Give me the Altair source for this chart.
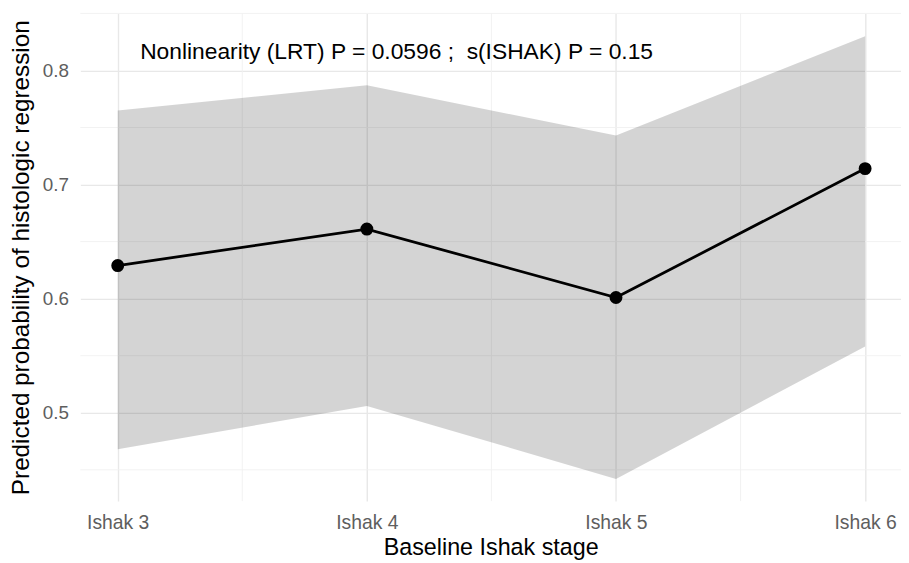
import altair as alt
import pandas as pd

stages = [3, 4, 5, 6]
stage_labels = ["Ishak 3", "Ishak 4", "Ishak 5", "Ishak 6"]
predicted = [0.629, 0.661, 0.601, 0.714]
lower = [0.468, 0.506, 0.442, 0.558]
upper = [0.765, 0.787, 0.743, 0.830]

minor_x = [3.5, 4.5, 5.5]
minor_y = [0.45, 0.55, 0.65, 0.75, 0.85]
major_y = [0.5, 0.6, 0.7, 0.8]

annotation = "Nonlinearity (LRT) P = 0.0596 ;\u00a0 s(ISHAK) P = 0.15"
ann_x = [3.09]
ann_y = [0.8105]

W, H = 828, 492
XDOM = [2.85, 6.144]
YDOM = [0.4226, 0.85]
FONT = "Liberation Sans"

df = pd.DataFrame({"stage": stages, "label": stage_labels, "pred": predicted,
                   "lo": lower, "hi": upper})

xs = alt.Scale(domain=XDOM, nice=False, zero=False)
ys = alt.Scale(domain=YDOM, nice=False, zero=False)

xaxis = alt.Axis(values=stages, labelExpr="'Ishak ' + datum.value", title="Baseline Ishak stage",
                 grid=True, gridColor="#E8E8E8", gridWidth=1.4, ticks=False, domain=False,
                 labelFont=FONT, labelFontSize=19.5, labelColor="#5E5E5E", labelPadding=13,
                 titleFont=FONT, titleFontSize=23.5, titleFontWeight="normal", titleColor="#000000",
                 titlePadding=3)
yaxis = alt.Axis(values=major_y, format=".1f", title="Predicted probability of histologic regression",
                 grid=True, gridColor="#E8E8E8", gridWidth=1.4, ticks=False, domain=False,
                 labelFont=FONT, labelFontSize=19, labelColor="#5E5E5E", labelPadding=12,
                 titleFont=FONT, titleFontSize=24.5, titleFontWeight="normal", titleColor="#000000",
                 titlePadding=9)

minor_v = alt.Chart(pd.DataFrame({"x": minor_x})).mark_rule(color="#F0F0F0", strokeWidth=0.9).encode(
    x=alt.X("x:Q", scale=xs, axis=xaxis), y=alt.value(0), y2=alt.value(H))
minor_h = alt.Chart(pd.DataFrame({"y": minor_y})).mark_rule(color="#F0F0F0", strokeWidth=0.9).encode(
    y=alt.Y("y:Q", scale=ys, axis=yaxis), x=alt.value(0), x2=alt.value(W))

band = alt.Chart(df).mark_area(color="#000000", opacity=0.17).encode(
    x=alt.X("stage:Q", scale=xs, axis=xaxis),
    y=alt.Y("lo:Q", scale=ys, axis=yaxis), y2="hi:Q")

line = alt.Chart(df).mark_line(color="#000000", strokeWidth=2.8).encode(
    x=alt.X("stage:Q", scale=xs, axis=xaxis), y=alt.Y("pred:Q", scale=ys, axis=yaxis))

pts = alt.Chart(df).mark_circle(color="#000000", opacity=1, size=170).encode(
    x=alt.X("stage:Q", scale=xs, axis=xaxis), y=alt.Y("pred:Q", scale=ys, axis=yaxis))

ann = alt.Chart(pd.DataFrame({"x": ann_x, "y": ann_y, "t": [annotation]})).mark_text(
    align="left", baseline="alphabetic", font=FONT, fontSize=23, color="#000000").encode(
    x=alt.X("x:Q", scale=xs, axis=xaxis), y=alt.Y("y:Q", scale=ys, axis=yaxis), text="t:N")

chart = alt.layer(minor_v, minor_h, band, line, pts, ann).properties(
    width=W, height=H,
    autosize=alt.AutoSizeParams(type="none"),
    padding={"left": 73, "top": 3, "right": 0, "bottom": 60},
    background="#FFFFFF",
).configure_view(stroke=None)

chart.save("out.html", embed_options={"renderer": "svg", "actions": False})
